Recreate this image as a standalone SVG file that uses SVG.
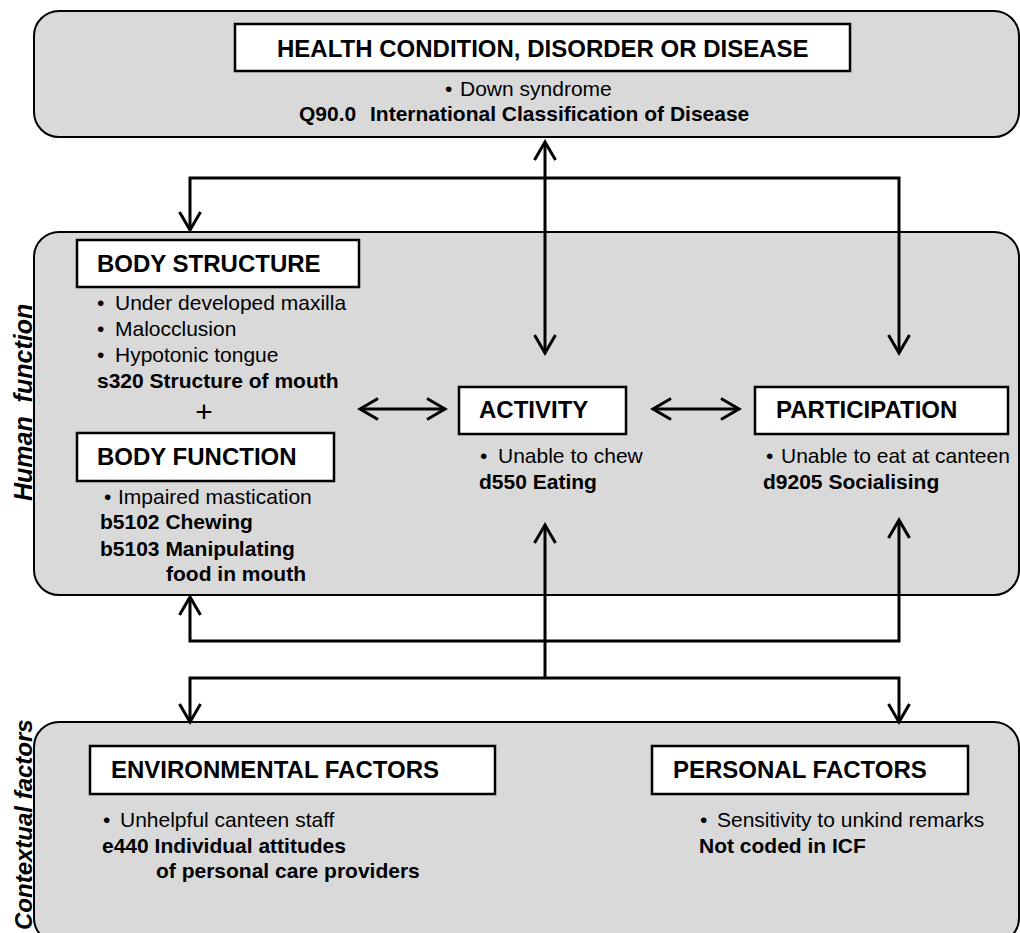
<svg xmlns="http://www.w3.org/2000/svg" width="1020" height="933" viewBox="0 0 1020 933">
<style>
.panel{fill:#d9d9d9;stroke:#000;stroke-width:2}
.box{fill:#fff;stroke:#000;stroke-width:2.5}
.title{font-family:"Liberation Sans",Arial,sans-serif;font-size:24px;font-weight:bold;fill:#000}
.t{font-family:"Liberation Sans",Arial,sans-serif;font-size:21px;fill:#000}
.b{font-family:"Liberation Sans",Arial,sans-serif;font-size:21px;font-weight:bold;fill:#000}
.plus{font-family:"Liberation Sans",Arial,sans-serif;font-size:30px;fill:#000}
.side{font-family:"Liberation Sans",Arial,sans-serif;font-weight:bold;font-style:italic;fill:#000}
.conn{fill:none;stroke:#000;stroke-width:3;marker-start:url(#ah);marker-end:url(#ah)}
.one{fill:none;stroke:#000;stroke-width:3;marker-end:url(#ah)}
</style>
<defs>
<marker id="ah" markerUnits="userSpaceOnUse" viewBox="-22 -13 26 26" markerWidth="26" markerHeight="26" refX="0" refY="0" orient="auto-start-reverse">
<path d="M-18,-10.5 L0,0 L-18,10.5" fill="none" stroke="#000" stroke-width="3"/>
</marker>
</defs>
<rect width="1020" height="933" fill="#fff"/>

<g id="health-condition">
<rect class="panel" x="34" y="11" width="985" height="126" rx="25"/>
<rect class="box" x="235" y="24" width="615" height="47"/>
<text class="title" x="277" y="57">HEALTH CONDITION, DISORDER OR DISEASE</text>
<text class="t" y="96"><tspan x="445">•</tspan><tspan x="460">Down syndrome</tspan></text>
<text class="b" y="121"><tspan x="299">Q90.0</tspan><tspan x="370">International Classification of Disease</tspan></text>
</g>

<g id="human-function">
<rect class="panel" x="34" y="232" width="985" height="363" rx="25"/>
<text class="side" style="font-size:25px" transform="translate(32,501) rotate(-90)" xml:space="preserve">Human  function</text>
</g>

<g id="body-structure">
<rect class="box" x="77" y="240" width="282" height="47"/>
<text class="title" x="97" y="272">BODY STRUCTURE</text>
<text class="t" y="310"><tspan x="97">•</tspan><tspan x="115">Under developed maxilla</tspan></text>
<text class="t" y="336"><tspan x="97">•</tspan><tspan x="115">Malocclusion</tspan></text>
<text class="t" y="362"><tspan x="97">•</tspan><tspan x="115">Hypotonic tongue</tspan></text>
<text class="b" x="97" y="388">s320 Structure of mouth</text>
<text class="plus" x="204" y="422" text-anchor="middle">+</text>
</g>

<g id="body-function">
<rect class="box" x="77" y="433" width="257" height="48"/>
<text class="title" x="97" y="465">BODY FUNCTION</text>
<text class="t" y="504"><tspan x="104">•</tspan><tspan x="118">Impaired mastication</tspan></text>
<text class="b" x="100" y="529">b5102 Chewing</text>
<text class="b" x="100" y="556">b5103 Manipulating</text>
<text class="b" x="166" y="581">food in mouth</text>
</g>

<g id="activity">
<rect class="box" x="459" y="387" width="167" height="47"/>
<text class="title" x="479" y="418">ACTIVITY</text>
<text class="t" y="463"><tspan x="480">•</tspan><tspan x="498">Unable to chew</tspan></text>
<text class="b" x="479" y="489">d550 Eating</text>
</g>

<g id="participation">
<rect class="box" x="755" y="387" width="253" height="47"/>
<text class="title" x="776" y="418">PARTICIPATION</text>
<text class="t" y="463"><tspan x="766">•</tspan><tspan x="781">Unable to eat at canteen</tspan></text>
<text class="b" x="763" y="489">d9205 Socialising</text>
</g>

<g id="contextual-factors">
<rect class="panel" x="34" y="722" width="985" height="221" rx="25"/>
<text class="side" style="font-size:24px" transform="translate(32,930) rotate(-90)">Contextual factors</text>
</g>

<g id="environmental-factors">
<rect class="box" x="90" y="746" width="405" height="48"/>
<text class="title" x="111" y="778">ENVIRONMENTAL FACTORS</text>
<text class="t" y="827"><tspan x="103">•</tspan><tspan x="120">Unhelpful canteen staff</tspan></text>
<text class="b" x="102" y="853">e440 Individual attitudes</text>
<text class="b" x="156" y="878">of personal care providers</text>
</g>

<g id="personal-factors">
<rect class="box" x="652" y="746" width="316" height="48"/>
<text class="title" x="673" y="778">PERSONAL FACTORS</text>
<text class="t" y="827"><tspan x="700">•</tspan><tspan x="717">Sensitivity to unkind remarks</tspan></text>
<text class="b" x="699" y="853">Not coded in ICF</text>
</g>

<g id="connectors">
<path class="conn" d="M190,230 V178 H899 V353"/>
<path class="conn" d="M545,142 V353"/>
<path class="conn" d="M190,597 V641 H899 V520"/>
<path class="one" d="M545,678 V525"/>
<path class="conn" d="M190,722 V678 H899 V722"/>
<path class="conn" d="M360,409 H445"/>
<path class="conn" d="M653,409 H739"/>
</g>
</svg>
